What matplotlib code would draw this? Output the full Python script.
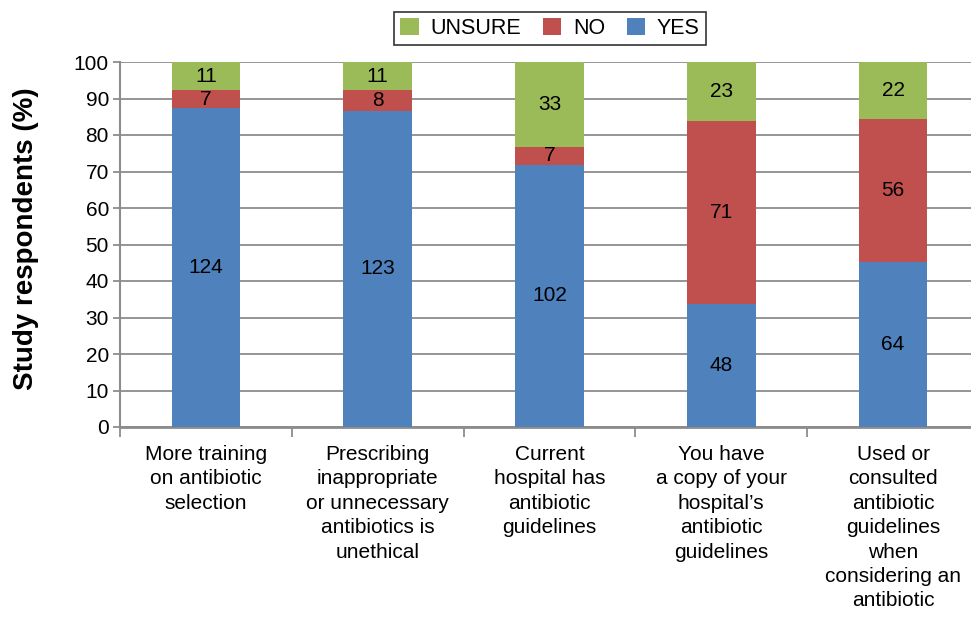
import matplotlib
matplotlib.use('Agg')
import matplotlib.pyplot as plt
import numpy as np

# === Dati ===
categories = [
    "More training\non antibiotic\nselection",
    "Prescribing\ninappropriate\nor unnecessary\nantibiotics is\nunethical",
    "Current\nhospital has\nantibiotic\nguidelines",
    "You have\na copy of your\nhospital\u2019s\nantibiotic\nguidelines",
    "Used or\nconsulted\nantibiotic\nguidelines\nwhen\nconsidering an\nantibiotic",
]
yes_n = [124, 123, 102, 48, 64]
no_n = [7, 8, 7, 71, 56]
unsure_n = [11, 11, 33, 23, 22]

BLUE = "#4F81BD"
RED = "#C0504D"
GREEN = "#9BBB59"
GRID = "#8C8C8C"

plt.rcParams['font.family'] = ['Liberation Sans', 'DejaVu Sans']

yes = np.array(yes_n, dtype=float)
no = np.array(no_n, dtype=float)
uns = np.array(unsure_n, dtype=float)
tot = yes + no + uns
yes_p = yes / tot * 100
no_p = no / tot * 100
uns_p = uns / tot * 100

fig = plt.figure(figsize=(9.71, 6.20), dpi=100)
ax = fig.add_axes([120 / 971, 1 - 427 / 620, 859 / 971, 365 / 620])

x = np.arange(len(categories))
w = 0.4
b_yes = ax.bar(x, yes_p, w, color=BLUE, label='YES', zorder=3)
b_no = ax.bar(x, no_p, w, bottom=yes_p, color=RED, label='NO', zorder=3)
b_uns = ax.bar(x, uns_p, w, bottom=yes_p + no_p, color=GREEN, label='UNSURE', zorder=3)

# etichette conteggi
for i in range(len(x)):
    ax.text(x[i], yes_p[i] / 2, f'{yes_n[i]}', ha='center', va='center', fontsize=15, zorder=4)
    ax.text(x[i], yes_p[i] + no_p[i] / 2, f'{no_n[i]}', ha='center', va='center', fontsize=15, zorder=4)
    ax.text(x[i], yes_p[i] + no_p[i] + uns_p[i] / 2, f'{unsure_n[i]}', ha='center', va='center', fontsize=15, zorder=4)

ax.set_xlim(-0.5, len(categories) - 0.5)
ax.set_ylim(0, 100)
ax.set_yticks(range(0, 101, 10))
ax.yaxis.grid(True, color=GRID, linewidth=1.3, zorder=0)
ax.tick_params(axis='y', labelsize=15, length=5, width=1.3, color=GRID, pad=3)

ax.set_xticks(x)
ax.set_xticklabels(categories, fontsize=15, linespacing=1.36)
ax.set_xticks(np.arange(len(categories) + 1) - 0.5, minor=True)
ax.tick_params(axis='x', which='major', length=0, pad=13)
ax.tick_params(axis='x', which='minor', length=7, width=1.3, color=GRID)

for s in ['top', 'right']:
    ax.spines[s].set_visible(False)
ax.spines['left'].set_color(GRID)
ax.spines['left'].set_linewidth(1.5)
ax.spines['bottom'].set_color(GRID)
ax.spines['bottom'].set_linewidth(2)

ax.set_ylabel('Study respondents (%)', fontsize=20, weight='bold')
ax.yaxis.set_label_coords((39 - 120) / 859, 0.517)

leg = fig.legend(handles=[b_uns, b_no, b_yes], labels=['UNSURE', 'NO', 'YES'],
                 loc='center', bbox_to_anchor=(550 / 971, 1 - 28.5 / 620), ncol=3,
                 fontsize=15.5, frameon=True, fancybox=False, edgecolor='black',
                 handlelength=0.85, handleheight=0.85, handletextpad=0.55,
                 columnspacing=1.0, borderpad=0.3, borderaxespad=0)
leg.get_frame().set_linewidth(1.2)

plt.savefig('out.png', dpi=100, facecolor='white')
